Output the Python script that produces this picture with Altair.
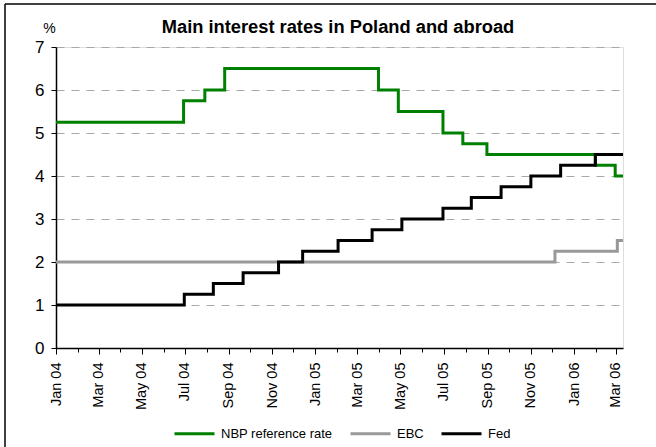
import altair as alt
import pandas as pd

# --- data ---
series_names = ["NBP reference rate", "EBC", "Fed"]
series_colors = ["#008000", "#999999", "#000000"]

nbp_dates = ["2004-01-01", "2004-06-29", "2004-07-29", "2004-08-26", "2005-03-31",
             "2005-04-28", "2005-06-30", "2005-07-28", "2005-08-31", "2006-01-31",
             "2006-02-28"]
nbp_rates = [5.25, 5.75, 6.00, 6.50, 6.00, 5.50, 5.00, 4.75, 4.50, 4.25, 4.00]

ebc_dates = ["2004-01-01", "2005-12-05", "2006-03-03"]
ebc_rates = [2.00, 2.25, 2.50]

fed_dates = ["2004-01-01", "2004-06-30", "2004-08-10", "2004-09-21", "2004-11-10",
             "2004-12-14", "2005-02-02", "2005-03-22", "2005-05-03", "2005-06-30",
             "2005-08-09", "2005-09-20", "2005-11-01", "2005-12-13", "2006-01-31"]
fed_rates = [1.00, 1.25, 1.50, 1.75, 2.00, 2.25, 2.50, 2.75, 3.00, 3.25, 3.50,
             3.75, 4.00, 4.25, 4.50]

end_date = "2006-03-11"
y_ticks = [0, 1, 2, 3, 4, 5, 6, 7]
title_text = "Main interest rates in Poland and abroad"

rows = []
for name, dates, rates in [(series_names[0], nbp_dates, nbp_rates),
                           (series_names[1], ebc_dates, ebc_rates),
                           (series_names[2], fed_dates, fed_rates)]:
    for d, r in zip(dates, rates):
        rows.append({"date": d, "rate": r, "series": name})
    rows.append({"date": end_date, "rate": rates[-1], "series": name})
df = pd.DataFrame(rows)

FONT = "Liberation Sans"

x_enc = alt.X(
    "date:T",
    scale=alt.Scale(type="utc", domain=[alt.DateTime(year=2004, month=1, date=1, utc=True),
                                        alt.DateTime(year=2006, month=3, date=11, utc=True)]),
    axis=alt.Axis(
        title=None,
        tickCount={"interval": "month", "step": 1},
        labelExpr="utcmonth(datum.value) % 2 == 0 ? utcFormat(datum.value, '%b %y') : ''",
        labelAngle=-90, labelAlign="right", labelBaseline="middle",
        labelFont=FONT, labelFontSize=14.5, labelColor="black",
        labelPadding=8, labelOverlap=False, labelFlush=False,
        tickSize={"condition": {"test": "utcmonth(datum.value) % 2 == 0", "value": 6}, "value": 4},
        tickColor="black", domainColor="black", domainWidth=1.5, grid=False,
    ),
)
y_enc = alt.Y(
    "rate:Q",
    scale=alt.Scale(domain=[0, 7], nice=False),
    axis=alt.Axis(
        values=y_ticks, title="%", titleAngle=0, titleX=-7, titleY=-15,
        titleAlign="center", titleBaseline="alphabetic", titleFont=FONT,
        titleFontSize=14, titleFontWeight="normal", titleColor="black",
        labelFont=FONT, labelFontSize=17, labelColor="black", labelPadding=7,
        tickSize=5, tickColor="black", domainColor="black", domainWidth=1.5,
        gridDash=[8, 7], gridColor="#a8a8a8", gridWidth=1,
    ),
)

lines = alt.Chart(df).mark_line(interpolate="step-after", strokeWidth=3).encode(
    x=x_enc,
    y=y_enc,
    color=alt.Color(
        "series:N",
        scale=alt.Scale(domain=series_names, range=series_colors),
        legend=alt.Legend(
            title=None, orient="none", direction="horizontal",
            legendX=117, legendY=365,
            symbolType="stroke", symbolSize=1600, symbolStrokeWidth=3,
            labelFont=FONT, labelFontSize=13, labelColor="black",
            labelOffset=5, columnPadding=11,
        ),
    ),
    detail="series:N",
)

title = alt.Chart(alt.Data(values=[{"t": title_text}])).mark_text(
    font=FONT, fontSize=18.3, fontWeight="bold", color="black",
    align="center", baseline="alphabetic"
).encode(text="t:N", x=alt.value(282), y=alt.value(-14))

frame_top = alt.Chart(alt.Data(values=[{}])).mark_rule(
    color="black", strokeWidth=1.5
).encode(x=alt.value(-51), x2=alt.value(700), y=alt.value(-43))
frame_left = alt.Chart(alt.Data(values=[{}])).mark_rule(
    color="black", strokeWidth=1.5
).encode(x=alt.value(-51), y=alt.value(-43), y2=alt.value(500))

chart = alt.layer(lines, title, frame_top, frame_left).properties(
    width=567, height=301,
    autosize=alt.AutoSizeParams(type="none"),
    padding={"left": 56, "top": 47, "right": 33, "bottom": 99},
).configure_view(stroke=None).configure(background="white")

chart.save("out.html", embed_options={"renderer": "svg", "actions": False})
